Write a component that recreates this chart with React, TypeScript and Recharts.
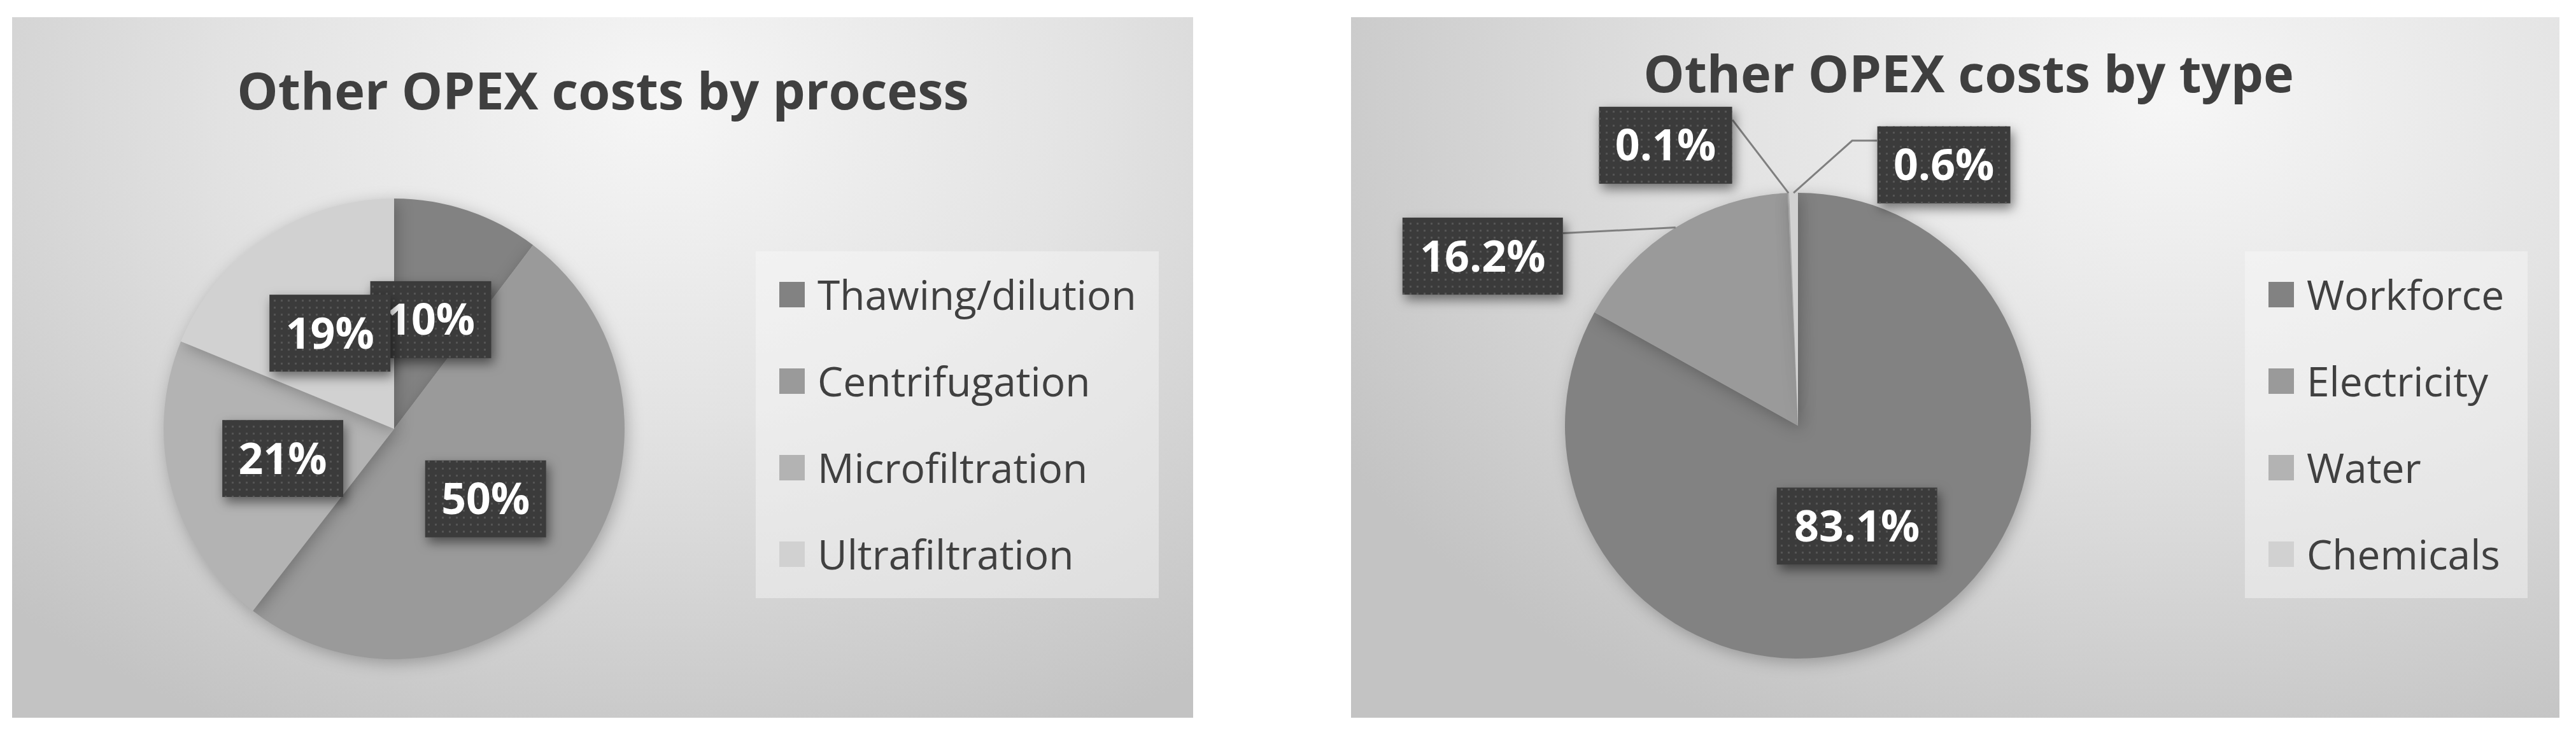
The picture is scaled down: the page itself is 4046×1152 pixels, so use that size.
import React from "react";
import { Cell, Legend, Pie, PieChart } from "recharts";

// data
const processNames = ["Thawing/dilution", "Centrifugation", "Microfiltration", "Ultrafiltration"];
const processShares = [10.3, 50.2, 20.7, 18.8];

const typeNames = ["Workforce", "Electricity", "Water", "Chemicals"];
const typeShares = [83.1, 16.2, 0.1, 0.6];

const sliceColors = ["#828282", "#9a9a9a", "#b3b3b3", "#d1d1d1"];

const processData = processNames.map((name, i) => ({ name, value: processShares[i] }));
const typeData = typeNames.map((name, i) => ({ name, value: typeShares[i] }));

const FONT = "'Open Sans', 'Noto Sans', sans-serif";
const RAD = Math.PI / 180;
const BOX_H = 121;

// where the outside callouts sit, relative to the rim point of their slice
const typeCallouts: Record<string, { dx: number; dy: number; ax: number; ay: number; elbow?: [number, number] }> = {
  Electricity: { dx: -303, dy: 45, ax: 126, ay: -36 },
  Water: { dx: -193, dy: -75, ax: 105, ay: -40 },
  Chemicals: { dx: 236, dy: -44, ax: -105, ay: -38, elbow: [92, -82] },
};

const boxWidth = (t: string) => 61 + [...t].reduce((w, ch) => w + (ch === "." ? 19 : 43), 0);

function polar(cx: number, cy: number, r: number, angle: number) {
  return { x: cx + r * Math.cos(-angle * RAD), y: cy + r * Math.sin(-angle * RAD) };
}

function CalloutBox({ x, y, text }: { x: number; y: number; text: string }) {
  const w = boxWidth(text);
  return (
    <g>
      <rect x={x - w / 2} y={y - BOX_H / 2} width={w} height={BOX_H} fill="#3b3b3b" filter="url(#boxShadow)" />
      <rect x={x - w / 2} y={y - BOX_H / 2} width={w} height={BOX_H} fill="url(#dots)" />
      <text
        x={x}
        y={y + 24}
        textAnchor="middle"
        fill="#ffffff"
        fontSize={68}
        fontWeight={700}
        fontFamily={FONT}
      >
        {text}
      </text>
    </g>
  );
}

const renderProcessLabel = (p: any) => {
  const pos = polar(p.cx, p.cy, p.outerRadius * 0.5, p.midAngle);
  return <CalloutBox key={p.name} x={pos.x} y={pos.y} text={`${Math.round(p.percent * 100)}%`} />;
};

const renderTypeLabel = (p: any) => {
  const text = `${(p.percent * 100).toFixed(1)}%`;
  const c = typeCallouts[p.name];
  if (!c) {
    const pos = polar(p.cx, p.cy, p.outerRadius * 0.5, p.midAngle);
    return <CalloutBox key={p.name} x={pos.x} y={pos.y} text={text} />;
  }
  const rim = polar(p.cx, p.cy, p.outerRadius, p.midAngle);
  const bx = rim.x + c.dx;
  const by = rim.y + c.dy;
  const pts = [`${rim.x},${rim.y}`];
  if (c.elbow) pts.push(`${rim.x + c.elbow[0]},${rim.y + c.elbow[1]}`);
  pts.push(`${bx + c.ax},${by + c.ay}`);
  return (
    <g key={p.name}>
      <polyline points={pts.join(" ")} fill="none" stroke="#7f7f7f" strokeWidth={3} />
      <CalloutBox x={bx} y={by} text={text} />
    </g>
  );
};

// legend keeps the order of the data, not alphabetical
const makeLegend = (order: string[]) => (props: any) => {
  const items = [...(props.payload || [])].sort(
    (a: any, b: any) => order.indexOf(a.value) - order.indexOf(b.value)
  );
  return (
    <div style={{ width: "100%", height: 545, background: "rgba(250,250,250,0.42)" }}>
      {items.map((entry: any) => (
        <div key={entry.value} style={{ display: "flex", alignItems: "center", height: 136 }}>
          <span
            style={{
              display: "inline-block",
              width: 40,
              height: 40,
              marginLeft: 37,
              background: entry.color ?? entry.payload?.fill,
            }}
          />
          <span
            style={{
              marginLeft: 20,
              fontSize: 64,
              lineHeight: "136px",
              color: "#404040",
              fontFamily: FONT,
              whiteSpace: "nowrap",
            }}
          >
            {entry.value}
          </span>
        </div>
      ))}
    </div>
  );
};

function Panel({
  left,
  width,
  title,
  titleX,
  titleY,
  glow,
  children,
}: {
  left: number;
  width: number;
  title: string;
  titleX: number;
  titleY: number;
  glow: string;
  children: React.ReactNode;
}) {
  return (
    <div
      style={{
        position: "absolute",
        left,
        top: 27,
        width,
        height: 1101,
        background: `radial-gradient(ellipse 80% 100% at ${glow}, #f6f6f6 0%, #e3e3e3 45%, #c3c3c3 100%)`,
      }}
    >
      {children}
      <svg width={width} height={200} style={{ position: "absolute", left: 0, top: 0, pointerEvents: "none" }}>
        <text x={titleX} y={titleY} textAnchor="middle" fill="#3f3f3f" fontSize={81} fontWeight={700} fontFamily={FONT}>
          {title}
        </text>
      </svg>
    </div>
  );
}

export default function App() {
  return (
    <div style={{ position: "absolute", left: 0, top: 0, width: 4046, height: 1152, background: "#fff" }}>
      <style>{`.opex-pie .recharts-pie-sector { filter: drop-shadow(4px 6px 12px rgba(0,0,0,0.25)); }`}</style>
      <svg width={0} height={0} style={{ position: "absolute" }}>
        <defs>
          <pattern id="dots" width={11} height={11} patternUnits="userSpaceOnUse">
            <rect x={4} y={4} width={3} height={3} fill="#555555" />
          </pattern>
          <filter id="boxShadow" x="-30%" y="-30%" width="160%" height="170%">
            <feDropShadow dx={4} dy={8} stdDeviation={9} floodColor="#000" floodOpacity={0.5} />
          </filter>
        </defs>
      </svg>

      <Panel left={19} width={1855} title="Other OPEX costs by process" titleX={928} titleY={145} glow="55% 12%">
        <div className="opex-pie">
          <PieChart width={1855} height={1101} margin={{ top: 0, right: 0, bottom: 0, left: 0 }}>
            <Pie
              data={processData}
              dataKey="value"
              nameKey="name"
              cx={600}
              cy={647}
              outerRadius={362}
              startAngle={90}
              endAngle={-270}
              stroke="none"
              label={renderProcessLabel}
              labelLine={false}
              isAnimationActive={false}
            >
              {processData.map((d, i) => (
                <Cell key={d.name} fill={sliceColors[i]} />
              ))}
            </Pie>
            <Legend
              layout="vertical"
              align="right"
              verticalAlign="middle"
              content={makeLegend(processNames)}
              wrapperStyle={{ left: 1168, top: 368, width: 633, height: 545 }}
            />
          </PieChart>
        </div>
      </Panel>

      <Panel left={2122} width={1898} title="Other OPEX costs by type" titleX={970} titleY={118} glow="68% 12%">
        <div className="opex-pie">
          <PieChart width={1898} height={1101} margin={{ top: 0, right: 0, bottom: 0, left: 0 }}>
            <Pie
              data={typeData}
              dataKey="value"
              nameKey="name"
              cx={702}
              cy={642}
              outerRadius={366}
              startAngle={90}
              endAngle={-270}
              stroke="none"
              label={renderTypeLabel}
              labelLine={false}
              isAnimationActive={false}
            >
              {typeData.map((d, i) => (
                <Cell key={d.name} fill={sliceColors[i]} />
              ))}
            </Pie>
            <Legend
              layout="vertical"
              align="right"
              verticalAlign="middle"
              content={makeLegend(typeNames)}
              wrapperStyle={{ left: 1404, top: 368, width: 444, height: 545 }}
            />
          </PieChart>
        </div>
      </Panel>
    </div>
  );
}
